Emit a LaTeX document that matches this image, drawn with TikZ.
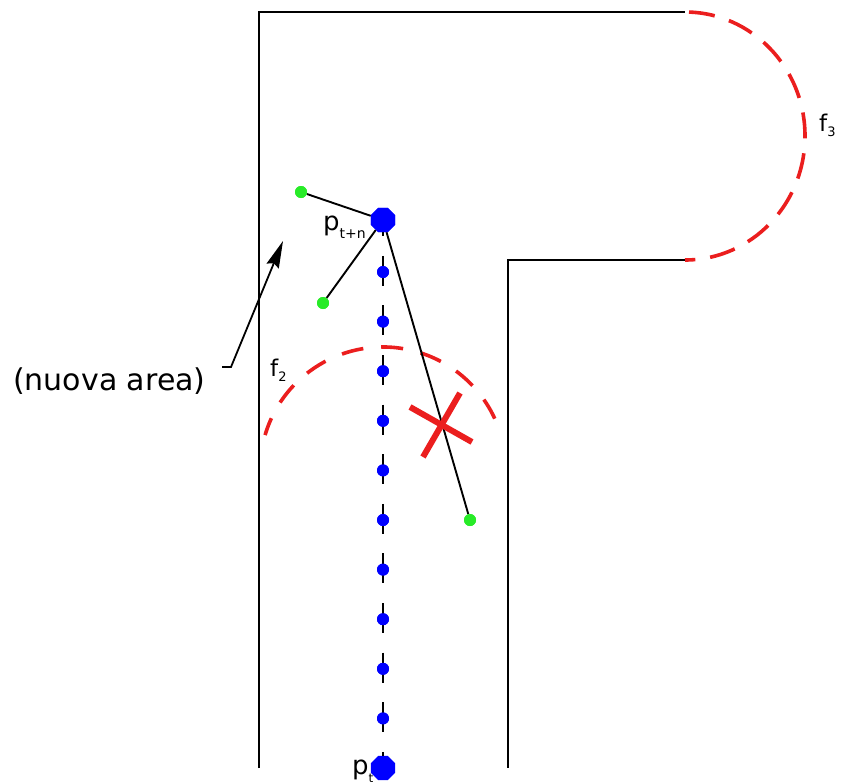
\documentclass[tikz,border=0pt]{standalone}
\usepackage{fontspec}
\setmainfont{DejaVu Sans}
\usetikzlibrary{arrows.meta,shapes.geometric}
\definecolor{fred}{RGB}{235,30,30}
\definecolor{pblue}{RGB}{0,0,255}
\definecolor{pgreen}{RGB}{40,235,40}
\begin{document}
\begin{tikzpicture}[x=1pt,y=-1pt,
  wall/.style={line width=2.2pt,black},
  frontier/.style={line width=3.6pt,fred,dash pattern=on 24pt off 16pt},
  bigdot/.style={regular polygon,regular polygon sides=8,fill=pblue,draw=none,inner sep=0pt,minimum size=26pt},
  smalldot/.style={circle,fill=pblue,draw=none,inner sep=0pt,minimum size=12pt},
  greendot/.style={circle,fill=pgreen,draw=none,inner sep=0pt,minimum size=12pt},
  ray/.style={line width=1.9pt,black},
  lbl/.style={inner sep=0pt,font=\fontsize{26}{26}\selectfont},
]
\useasboundingbox (0,0) rectangle (843,784);
% walls
\draw[wall] (259,768) -- (259,12) -- (685,12);
\draw[wall] (685,260) -- (508,260) -- (508,768);
% frontier f3
\draw[frontier,dash pattern=on 26pt off 15pt,dash phase=-4pt] (685,12) arc[start angle=-90,end angle=90,x radius=120,y radius=124];
% frontier f2
\draw[frontier,dash pattern=on 22pt off 18pt,dash phase=4pt] (383,470) ++(-163.5:123) arc[start angle=-163.5,end angle=-16.5,radius=123];
% nodes
\node[bigdot] (pn) at (383,220) {};
\node[bigdot] (pt) at (383,768) {};
\foreach \i in {0,...,9} {
  \node[smalldot] (d\i) at (383,{272+49.6*\i}) {};
}
\node[greendot] (g1) at (301,192) {};
\node[greendot] (g2) at (323,303) {};
\node[greendot] (g3) at (470,520) {};
% centre path
\draw[line width=1.8pt,black,dash pattern=on 30pt off 19.6pt,dash phase=26pt] (pn.south) -- (pt.north);
\foreach \i in {0,...,9} {\node[smalldot] at (d\i) {};}
% rays
\draw[ray] (pn) -- (g1);
\draw[ray] (pn) -- (g2);
\draw[ray] (pn) -- (g3);
\node[bigdot] at (pn) {};
\node[greendot] at (g1) {};
\node[greendot] at (g2) {};
\node[greendot] at (g3) {};
% red cross
\draw[line width=6pt,fred] (410,407) -- (472,442);
\draw[line width=6pt,fred] (460,393) -- (423,457);
% labels
\node[lbl,anchor=base east] (lpn) at (366,230) {p\raisebox{-8pt}{\fontsize{14}{14}\selectfont t+n}};
\node[lbl,anchor=base west] (lpt) at (352,774) {p\raisebox{-8pt}{\fontsize{12}{12}\selectfont t}};
\node[lbl,anchor=base west,font=\fontsize{23}{23}\selectfont] (lf2) at (270,376) {f\raisebox{-5pt}{\fontsize{13}{13}\selectfont 2}};
\node[lbl,anchor=base west,font=\fontsize{23}{23}\selectfont] (lf3) at (819,131) {f\raisebox{-5pt}{\fontsize{13}{13}\selectfont 3}};
\node[lbl,anchor=base west,font=\fontsize{30}{30}\selectfont] (na) at (13,390) {(nuova area)};
\coordinate (tip) at (283,241);
\draw[line width=1.8pt,-{Stealth[length=27pt,width=13pt,inset=3pt]}] (222,367) -- (231,367) -- (tip);
\end{tikzpicture}
\end{document}
